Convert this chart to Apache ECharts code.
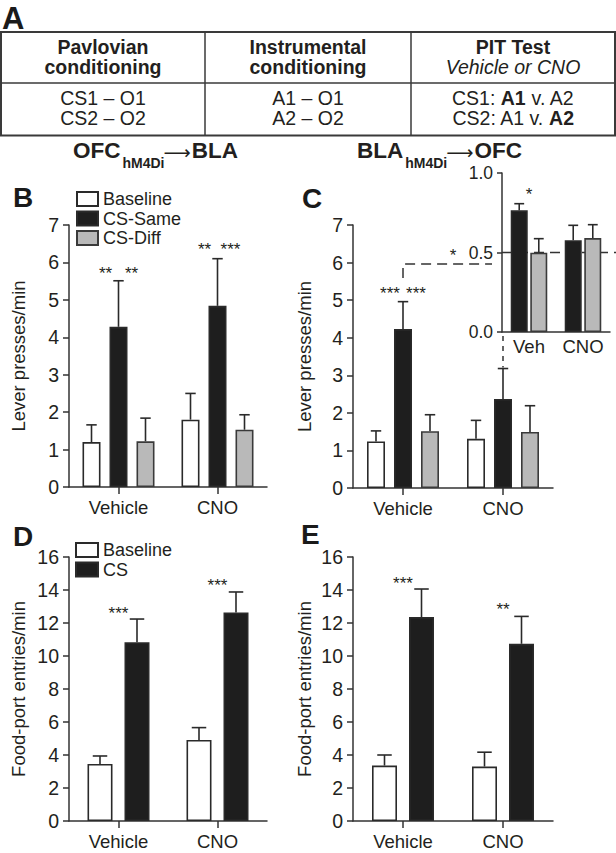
<!DOCTYPE html>
<html><head><meta charset="utf-8">
<script src="https://cdn.jsdelivr.net/npm/echarts@6/dist/echarts.min.js"></script>
<style>html,body{margin:0;padding:0;background:#fff}#c{width:616px;height:853px}</style>
</head><body><div id="c"></div>
<script>
// ---------- data ----------
const groups = ['Vehicle', 'CNO'];
const insetGroups = ['Veh', 'CNO'];
const leverTicks = [0, 1, 2, 3, 4, 5, 6, 7];
const insetTicks = [0, 0.5, 1.0];
const foodTicks = [0, 2, 4, 6, 8, 10, 12, 14, 16];

// Panel B (OFC-hM4Di -> BLA), lever presses/min
const bBaseline = [1.20, 1.80];
const bBaselineErr = [0.46, 0.70];
const bSame = [4.28, 4.84];
const bSameErr = [1.23, 1.26];
const bDiff = [1.22, 1.53];
const bDiffErr = [0.62, 0.40];
const bStars = [[0, 5.82, '**', '**'], [1, 6.44, '**', '***']];

// Panel C (BLA-hM4Di -> OFC), lever presses/min
const cBaseline = [1.24, 1.31];
const cBaselineErr = [0.28, 0.49];
const cSame = [4.23, 2.37];
const cSameErr = [0.73, 0.81];
const cDiff = [1.51, 1.49];
const cDiffErr = [0.44, 0.70];
const cStars = [[0, 5.27, '***', '***']];
const cBracket = [5.96, 5.59, 6.29]; // bracket level, bracket foot, bracket star level

// Inset (elevation ratio)
const insSame = [0.765, 0.577];
const insSameErr = [0.042, 0.094];
const insDiff = [0.499, 0.591];
const insDiffErr = [0.088, 0.084];
const insStars = [[0, 0.89, '*']];
const insRef = 0.5;

// Panel D food-port entries/min
const dBaseline = [3.46, 4.91];
const dBaselineErr = [0.48, 0.75];
const dCS = [10.84, 12.64];
const dCSErr = [1.40, 1.24];
const dStars = [[0, 12.8, '***'], [1, 14.52, '***']];

// Panel E food-port entries/min
const eBaseline = [3.36, 3.30];
const eBaselineErr = [0.64, 0.87];
const eCS = [12.36, 10.74];
const eCSErr = [1.70, 1.66];
const eStars = [[0, 14.62, '***'], [1, 13.05, '**']];

// Table text (rich-text cells)
const tableHead = ['{b|Pavlovian}\n{b|conditioning}', '{b|Instrumental}\n{b|conditioning}', '{b|PIT Test}\n{i|Vehicle or CNO}'];
const tableBody = ['{n|CS1 – O1}\n{n|CS2 – O2}', '{n|A1 – O1}\n{n|A2 – O2}', '{n|CS1: }{b|A1}{n| v. A2}\n{n|CS2: A1 v. }{b|A2}'];

// ---------- styling / layout ----------
const ff = "'Liberation Sans', Arial, Helvetica, sans-serif";
const ink = '#231f20';
const axisInk = '#333';
const grids = [
  {left: 69, top: 225, width: 198, height: 262},   // B
  {left: 353, top: 225, width: 200, height: 263},  // C
  {left: 502, top: 173, width: 108, height: 159},  // inset
  {left: 69, top: 557, width: 198, height: 264},   // D
  {left: 353, top: 557, width: 200, height: 264}   // E
];
const styles = {
  'Baseline': {color: '#ffffff', borderColor: '#2a2a2a', borderWidth: 1.6},
  'CS-Same': {color: '#1e1e1e', borderColor: '#2a2a2a', borderWidth: 1.6},
  'CS': {color: '#1e1e1e', borderColor: '#2a2a2a', borderWidth: 1.6},
  'CS-Diff': {color: '#b9b9b9', borderColor: '#3a3a3a', borderWidth: 1.6}
};

const ctx = document.createElement('canvas').getContext('2d');
function tw(text, font) { ctx.font = font; return ctx.measureText(text).width; }

function catAxis(gi, data, opts) {
  opts = opts || {};
  return {
    type: 'category', gridIndex: gi, data: data,
    axisLine: {lineStyle: {color: axisInk, width: 1.5}},
    axisTick: {show: opts.ticks !== false, alignWithLabel: true, length: 7, lineStyle: {color: axisInk, width: 1.5}},
    axisLabel: {fontSize: 18.5, color: ink, fontFamily: ff, margin: opts.margin || 11}
  };
}
function valAxis(gi, ticks, name, opts) {
  opts = opts || {};
  return {
    type: 'value', gridIndex: gi, min: ticks[0], max: ticks[ticks.length - 1], interval: ticks[1] - ticks[0],
    name: name, nameLocation: 'middle', nameGap: opts.nameGap || 40,
    nameTextStyle: {fontSize: 18.5, color: ink, fontFamily: ff},
    axisLine: {show: true, lineStyle: {color: axisInk, width: 1.5}},
    axisTick: {show: true, length: opts.tickLen || 6, lineStyle: {color: axisInk, width: 1.5}},
    splitLine: {show: false},
    axisLabel: {fontSize: opts.fontSize || 19.5, color: ink, fontFamily: ff, margin: opts.margin || 10,
      formatter: opts.formatter}
  };
}
function bar(gi, name, data, width, gap) {
  return {type: 'bar', name: name, xAxisIndex: gi, yAxisIndex: gi, data: data, barWidth: width, barGap: gap,
    itemStyle: styles[name], z: 3, animation: false, silent: true};
}
function err(gi, vals, errs, width, offset) {
  return {
    type: 'custom', xAxisIndex: gi, yAxisIndex: gi, z: 2, silent: true, animation: false,
    data: vals.map((v, i) => [i, v, v + errs[i]]),
    renderItem: function (params, api) {
      const p0 = api.coord([api.value(0), api.value(1)]);
      const p1 = api.coord([api.value(0), api.value(2)]);
      const x = p0[0] + offset, cw = width * 0.29;
      const st = {stroke: '#2a2a2a', lineWidth: 1.6};
      return {type: 'group', children: [
        {type: 'line', shape: {x1: x, y1: p0[1], x2: x, y2: p1[1]}, style: st},
        {type: 'line', shape: {x1: x - cw, y1: p1[1], x2: x + cw, y2: p1[1]}, style: st}
      ]};
    }
  };
}
function stars(gi, items, sep) {
  return {
    type: 'custom', xAxisIndex: gi, yAxisIndex: gi, z: 6, silent: true, animation: false,
    data: items.map(it => [it[0], it[1]]),
    renderItem: function (params, api) {
      const it = items[params.dataIndex];
      const labels = it.slice(2);
      const p = api.coord([api.value(0), api.value(1)]);
      const n = labels.length;
      return {type: 'group', children: labels.map((t, k) => ({
        type: 'text', x: p[0] + (k - (n - 1) / 2) * sep, y: p[1] + 4,
        style: {text: t, font: '17px ' + ff, fill: ink, align: 'center', verticalAlign: 'middle'}
      }))};
    }
  };
}
function barGroup(gi, names, vals, errsArr, width, gapPct) {
  const out = [];
  const step = width * (1 + gapPct / 100);
  names.forEach((nm, i) => {
    out.push(bar(gi, nm, vals[i], width, gapPct + '%'));
    out.push(err(gi, vals[i], errsArr[i], width, (i - (names.length - 1) / 2) * step));
  });
  return out;
}

const series = [].concat(
  barGroup(0, ['Baseline', 'CS-Same', 'CS-Diff'], [bBaseline, bSame, bDiff], [bBaselineErr, bSameErr, bDiffErr], 18, 50),
  [stars(0, bStars, 26)],
  barGroup(1, ['Baseline', 'CS-Same', 'CS-Diff'], [cBaseline, cSame, cDiff], [cBaselineErr, cSameErr, cDiffErr], 18, 50),
  [stars(1, cStars, 26)],
  barGroup(2, ['CS-Same', 'CS-Diff'], [insSame, insDiff], [insSameErr, insDiffErr], 17, 15),
  [stars(2, insStars, 0)],
  barGroup(3, ['Baseline', 'CS'], [dBaseline, dCS], [dBaselineErr, dCSErr], 25, 48),
  [stars(3, dStars, 0)],
  barGroup(4, ['Baseline', 'CS'], [eBaseline, eCS], [eBaselineErr, eCSErr], 25, 48),
  [stars(4, eStars, 0)]
);

// bracket connecting panel C Vehicle group to inset, and dashed drop to CNO CS-Same
series.push({
  type: 'custom', xAxisIndex: 1, yAxisIndex: 1, z: 5, silent: true, animation: false,
  data: [[0, cBracket[0], cBracket[1], cBracket[2]]],
  renderItem: function (params, api) {
    const top = api.coord([0, api.value(1)]);
    const foot = api.coord([0, api.value(2)]);
    const starA = api.coord([0, api.value(3)]);
    const starB = api.coord([1, api.value(3)]);
    const endX = grids[2].left - 10;
    const cnoTop = api.coord([1, cSame[1] + cSameErr[1]]);
    const insetBottom = grids[2].top + grids[2].height;
    const st = {stroke: '#333', lineWidth: 1.5, lineDash: [10, 6], fill: null};
    return {type: 'group', children: [
      {type: 'polyline', shape: {points: [[foot[0], foot[1]], [top[0], top[1]], [endX, top[1]]]}, style: st},
      {type: 'line', shape: {x1: cnoTop[0], y1: insetBottom + 4, x2: cnoTop[0], y2: cnoTop[1] - 1},
        style: {stroke: '#333', lineWidth: 1.5, lineDash: [5, 5]}},
      {type: 'text', x: (starA[0] + starB[0]) / 2, y: starA[1] + 4,
        style: {text: '*', font: '17px ' + ff, fill: ink, align: 'center', verticalAlign: 'middle'}}
    ]};
  }
});
// inset reference line at 0.5
series.push({
  type: 'custom', xAxisIndex: 2, yAxisIndex: 2, z: 1, silent: true, animation: false,
  data: [[0, insRef]],
  renderItem: function (params, api) {
    const p = api.coord([0, api.value(1)]);
    const cs = params.coordSys;
    return {type: 'line', shape: {x1: cs.x, y1: p[1], x2: 616, y2: p[1]},
      style: {stroke: '#333', lineWidth: 1.5, lineDash: [10, 6]}};
  }
});

// ---------- graphic: table, titles, panel letters ----------
const graphic = [];
const tbl = {x: 1, y: 32, w: 614, h: 103.5, mid: 83, cols: [205, 411]};
graphic.push({type: 'rect', shape: {x: tbl.x, y: tbl.y, width: tbl.w, height: tbl.h}, style: {fill: null, stroke: '#3a3a3a', lineWidth: 2}});
graphic.push({type: 'line', shape: {x1: tbl.x, y1: tbl.mid, x2: tbl.x + tbl.w, y2: tbl.mid}, style: {stroke: '#3a3a3a', lineWidth: 1.5}});
tbl.cols.forEach(cx => graphic.push({type: 'line', shape: {x1: cx, y1: tbl.y, x2: cx, y2: tbl.y + tbl.h}, style: {stroke: '#3a3a3a', lineWidth: 1.5}}));
const colCenters = [103, 308, 513];
const cellRich = (lh) => ({
  n: {fontSize: 19.5, fontFamily: ff, fill: ink, lineHeight: lh},
  b: {fontSize: 19.5, fontFamily: ff, fontWeight: 'bold', fill: ink, lineHeight: lh},
  i: {fontSize: 19.5, fontFamily: ff, fontStyle: 'italic', fill: ink, lineHeight: lh}
});
tableHead.forEach((t, ci) => graphic.push({type: 'text', x: colCenters[ci], y: 57.3, style: {
  text: t, rich: cellRich(20.2), fill: ink, align: 'center', verticalAlign: 'middle'}}));
tableBody.forEach((t, ci) => graphic.push({type: 'text', x: colCenters[ci], y: 108, style: {
  text: t, rich: cellRich(20.2), fill: ink, align: 'center', verticalAlign: 'middle'}}));

function titleParts(x, yc, main1, sub, main2) {
  const fb = 'bold 22.5px ' + ff, fs = 'bold 14px ' + ff, fa = "19px 'DejaVu Sans', sans-serif";
  let cx = x;
  const mk = (t, f, y) => ({type: 'text', x: cx, y: y, style: {text: t, font: f, fill: ink, align: 'left', verticalAlign: 'middle'}});
  graphic.push(mk(main1, fb, yc)); cx += tw(main1, fb) + 2;
  graphic.push(mk(sub, fs, yc + 12)); cx += tw(sub, fs) - 1;
  graphic.push(mk('⟶', fa, yc + 1)); cx += tw('⟶', fa) + 1;
  graphic.push(mk(main2, fb, yc));
}
titleParts(73, 150.5, 'OFC', 'hM4Di', 'BLA');
titleParts(357, 150.5, 'BLA', 'hM4Di', 'OFC');

const letters = [['A', 2, 18, 31], ['B', 13, 197, 28], ['C', 302, 198, 28], ['D', 13, 536, 28], ['E', 301, 534, 28]];
letters.forEach(l => graphic.push({type: 'text', x: l[1], y: l[2], style: {
  text: l[0], font: 'bold ' + l[3] + 'px ' + ff, fill: '#1a1a1a', align: 'left', verticalAlign: 'middle'}}));

// ---------- option ----------
const option = {
  animation: false,
  backgroundColor: '#fff',
  textStyle: {fontFamily: ff},
  grid: grids.map(g => Object.assign({containLabel: false}, g)),
  xAxis: [
    catAxis(0, groups), catAxis(1, groups), catAxis(2, insetGroups, {ticks: false, margin: 5}),
    catAxis(3, groups), catAxis(4, groups)
  ],
  yAxis: [
    valAxis(0, leverTicks, 'Lever presses/min', {nameGap: 41}),
    valAxis(1, leverTicks, 'Lever presses/min', {nameGap: 39}),
    valAxis(2, insetTicks, '', {fontSize: 17.5, margin: 9, tickLen: 5, formatter: v => v.toFixed(1)}),
    valAxis(3, foodTicks, 'Food-port entries/min', {nameGap: 41}),
    valAxis(4, foodTicks, 'Food-port entries/min', {nameGap: 39})
  ],
  legend: [
    {data: ['Baseline', 'CS-Same', 'CS-Diff'], orient: 'vertical', left: 76, top: 190, padding: 0,
      itemWidth: 21, itemHeight: 14, itemGap: 1.5, selectedMode: false, icon: 'rect',
      textStyle: {fontSize: 18, color: ink, fontFamily: ff, lineHeight: 16}},
    {data: ['Baseline', 'CS'], orient: 'vertical', left: 75, top: 541, padding: 0,
      itemWidth: 22, itemHeight: 14, itemGap: 1.5, selectedMode: false, icon: 'rect',
      textStyle: {fontSize: 18, color: ink, fontFamily: ff, lineHeight: 16}}
  ],
  series: series,
  graphic: graphic
};
const chart = echarts.init(document.getElementById('c'), null, {renderer: 'svg', width: 616, height: 853});
chart.setOption(option);
</script>
</body></html>
